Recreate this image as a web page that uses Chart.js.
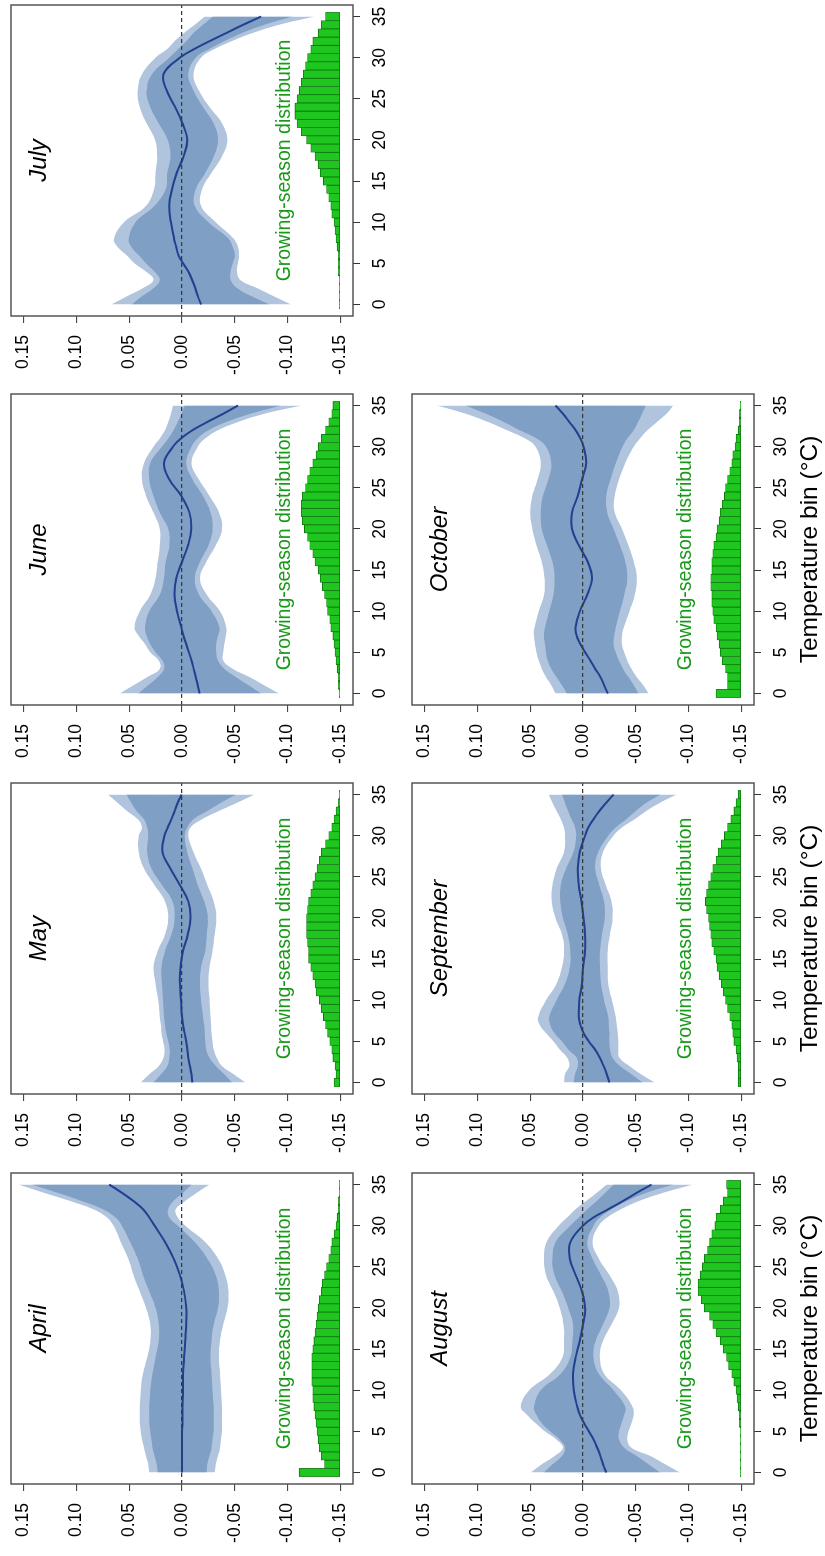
<!DOCTYPE html>
<html>
<head>
<meta charset="utf-8">
<script src="https://cdn.jsdelivr.net/npm/chart.js@4.4.1/dist/chart.umd.min.js"></script>
<style>
html, body { margin: 0; padding: 0; background: #fff; }
body { width: 825px; height: 1556px; overflow: hidden; position: relative; }
/* the figure is laid out landscape and turned a quarter turn to the left */
#fig { position: absolute; left: 0; top: 0; width: 1556px; height: 825px;
       transform-origin: 0 0; transform: translate(0px, 1556px) rotate(-90deg); }
#fig canvas { position: absolute; }
</style>
</head>
<body>
<div id="fig"></div>
<script>
const FONT = '"Liberation Sans", Arial, Helvetica, sans-serif';

// temperatures (°C) where the response curves were read
const temps = [0, 1, 2, 3, 4, 5, 6, 7, 8, 10, 12, 14, 16, 18, 20, 22, 24, 26, 28, 30, 31, 32, 33, 34, 35];
// histogram bins
const bins = [0, 1, 2, 3, 4, 5, 6, 7, 8, 9, 10, 11, 12, 13, 14, 15, 16, 17, 18, 19, 20, 21, 22, 23, 24, 25, 26, 27, 28, 29, 30, 31, 32, 33, 34, 35];
const tempTicks = [0, 5, 10, 15, 20, 25, 30, 35];
const valueTicks = [-0.15, -0.10, -0.05, 0, 0.05, 0.10, 0.15];
const histBase = -0.15;

// April
const aprHi99 = [0.031, 0.032, 0.034, 0.036, 0.038, 0.039, 0.040, 0.040, 0.040, 0.039, 0.037, 0.033, 0.030, 0.030, 0.034, 0.040, 0.046, 0.051, 0.058, 0.065, 0.071, 0.084, 0.106, 0.131, 0.155];
const aprHi95 = [0.023, 0.024, 0.026, 0.028, 0.029, 0.030, 0.031, 0.031, 0.031, 0.030, 0.028, 0.025, 0.022, 0.022, 0.025, 0.031, 0.037, 0.042, 0.049, 0.057, 0.063, 0.075, 0.095, 0.118, 0.142];
const aprMean = [0.000, 0.000, 0.000, 0.000, 0.000, 0.000, -0.0005, -0.0005, -0.0005, -0.001, -0.001, -0.002, -0.003, -0.004, -0.004, -0.002, 0.002, 0.008, 0.016, 0.026, 0.031, 0.037, 0.046, 0.057, 0.069];
const aprLo95 = [-0.0235, -0.024, -0.026, -0.028, -0.029, -0.030, -0.030, -0.030, -0.030, -0.029, -0.028, -0.027, -0.028, -0.030, -0.034, -0.035, -0.032, -0.024, -0.012, 0.004, 0.012, 0.013, 0.008, -0.001, -0.009];
const aprLo99 = [-0.031, -0.032, -0.034, -0.036, -0.037, -0.038, -0.038, -0.038, -0.038, -0.037, -0.036, -0.035, -0.036, -0.039, -0.043, -0.044, -0.041, -0.034, -0.022, -0.003, 0.004, 0.006, -0.003, -0.014, -0.026];
const aprHist = [-0.111, -0.135, -0.132, -0.130, -0.129, -0.128, -0.127, -0.126, -0.125, -0.124, -0.124, -0.123, -0.123, -0.123, -0.123, -0.124, -0.125, -0.126, -0.127, -0.128, -0.129, -0.130, -0.132, -0.133, -0.135, -0.137, -0.139, -0.141, -0.142, -0.144, -0.146, -0.147, -0.148, -0.148, -0.149, -0.149];

// May
const mayHi99 = [0.039, 0.031, 0.022, 0.0175, 0.0165, 0.018, 0.0195, 0.020, 0.021, 0.0225, 0.025, 0.027, 0.023, 0.016, 0.013, 0.016, 0.026, 0.036, 0.041, 0.041, 0.038, 0.042, 0.052, 0.061, 0.070];
const mayHi95 = [0.027, 0.020, 0.014, 0.012, 0.0115, 0.013, 0.015, 0.016, 0.017, 0.018, 0.019, 0.0195, 0.016, 0.010, 0.007, 0.009, 0.019, 0.029, 0.033, 0.032, 0.033, 0.036, 0.043, 0.048, 0.0525];
const mayMean = [-0.0098, -0.009, -0.0075, -0.006, -0.005, -0.004, -0.0025, -0.001, 0.000, 0.001, 0.002, 0.0015, -0.001, -0.0055, -0.008, -0.006, 0.002, 0.011, 0.0185, 0.0165, 0.0135, 0.010, 0.007, 0.004, 0.0005];
const mayLo95 = [-0.0475, -0.040, -0.032, -0.026, -0.023, -0.022, -0.0215, -0.021, -0.020, -0.018, -0.017, -0.018, -0.022, -0.0235, -0.0245, -0.021, -0.015, -0.010, -0.005, -0.0025, -0.005, -0.011, -0.024, -0.037, -0.051];
const mayLo99 = [-0.060, -0.049, -0.038, -0.033, -0.030, -0.029, -0.028, -0.0275, -0.027, -0.026, -0.025, -0.026, -0.029, -0.031, -0.0325, -0.030, -0.024, -0.018, -0.011, -0.006, -0.008, -0.019, -0.035, -0.052, -0.0685];
const mayHist = [-0.144, -0.146, -0.145, -0.143, -0.142, -0.140, -0.138, -0.136, -0.134, -0.132, -0.130, -0.127, -0.126, -0.124, -0.122, -0.120, -0.120, -0.119, -0.118, -0.118, -0.118, -0.119, -0.120, -0.122, -0.124, -0.126, -0.128, -0.130, -0.132, -0.136, -0.139, -0.142, -0.144, -0.146, -0.148, -0.149];

// June
const junHi99 = [0.059, 0.046, 0.033, 0.021, 0.022, 0.030, 0.035, 0.041, 0.045, 0.040, 0.030, 0.025, 0.023, 0.021, 0.021, 0.027, 0.034, 0.038, 0.036, 0.027, 0.021, 0.016, 0.013, 0.0105, 0.0085];
const junHi95 = [0.0415, 0.032, 0.023, 0.017, 0.0185, 0.025, 0.030, 0.0335, 0.035, 0.031, 0.021, 0.017, 0.0155, 0.012, 0.013, 0.021, 0.027, 0.031, 0.030, 0.019, 0.013, 0.008, 0.004, 0.0005, -0.0025];
const junMean = [-0.0167, -0.015, -0.013, -0.011, -0.009, -0.0065, -0.004, -0.0015, 0.0006, 0.0047, 0.007, 0.0055, 0.000, -0.0057, -0.0088, -0.007, 0.0006, 0.012, 0.017, 0.0085, 0.001, -0.010, -0.024, -0.039, -0.053];
const junLo95 = [-0.075, -0.063, -0.051, -0.040, -0.034, -0.0325, -0.0325, -0.034, -0.0355, -0.028, -0.016, -0.012, -0.017, -0.025, -0.029, -0.027, -0.020, -0.010, -0.004, -0.009, -0.015, -0.025, -0.042, -0.065, -0.094];
const junLo99 = [-0.092, -0.078, -0.064, -0.048, -0.039, -0.039, -0.040, -0.0415, -0.042, -0.036, -0.0235, -0.017, -0.023, -0.032, -0.038, -0.035, -0.026, -0.016, -0.009, -0.015, -0.022, -0.034, -0.053, -0.078, -0.113];
const junHist = [-0.149, -0.148, -0.148, -0.147, -0.146, -0.145, -0.144, -0.143, -0.141, -0.140, -0.138, -0.137, -0.135, -0.133, -0.131, -0.129, -0.126, -0.124, -0.121, -0.119, -0.116, -0.114, -0.113, -0.113, -0.114, -0.117, -0.119, -0.121, -0.124, -0.127, -0.129, -0.132, -0.136, -0.139, -0.142, -0.143];

// July
const julHi99 = [0.067, 0.052, 0.037, 0.027, 0.034, 0.045, 0.0525, 0.061, 0.0645, 0.055, 0.034, 0.0265, 0.025, 0.0235, 0.0255, 0.0335, 0.040, 0.042, 0.038, 0.025, 0.0145, 0.007, -0.002, -0.012, -0.0215];
const julHi95 = [0.0475, 0.038, 0.027, 0.021, 0.026, 0.034, 0.041, 0.048, 0.0505, 0.044, 0.026, 0.0155, 0.014, 0.011, 0.0135, 0.022, 0.030, 0.0335, 0.0285, 0.012, 0.004, -0.004, -0.011, -0.020, -0.0295];
const julMean = [-0.018, -0.015, -0.0125, -0.0095, -0.006, -0.001, 0.0035, 0.0055, 0.0075, 0.0105, 0.012, 0.0095, 0.005, -0.0015, -0.005, -0.0005, 0.0065, 0.0145, 0.0175, 0.002, -0.011, -0.026, -0.042, -0.058, -0.075];
const julLo95 = [-0.083, -0.066, -0.052, -0.046, -0.046, -0.048, -0.050, -0.048, -0.044, -0.025, -0.012, -0.013, -0.022, -0.030, -0.034, -0.030, -0.020, -0.011, -0.006, -0.013, -0.025, -0.040, -0.057, -0.078, -0.105];
const julLo99 = [-0.1035, -0.087, -0.071, -0.055, -0.052, -0.053, -0.054, -0.053, -0.049, -0.032, -0.018, -0.019, -0.028, -0.038, -0.043, -0.038, -0.026, -0.016, -0.011, -0.018, -0.030, -0.047, -0.067, -0.092, -0.1255];
const julHist = [-0.149, -0.149, -0.149, -0.149, -0.148, -0.148, -0.148, -0.147, -0.146, -0.145, -0.144, -0.142, -0.141, -0.139, -0.137, -0.134, -0.131, -0.129, -0.126, -0.122, -0.118, -0.113, -0.109, -0.107, -0.107, -0.109, -0.111, -0.113, -0.115, -0.117, -0.119, -0.122, -0.124, -0.129, -0.132, -0.136];

// August
const augHi99 = [0.0495, 0.039, 0.027, 0.019, 0.025, 0.036, 0.045, 0.053, 0.059, 0.051, 0.031, 0.0195, 0.018, 0.0185, 0.022, 0.028, 0.035, 0.037, 0.0345, 0.023, 0.015, 0.007, -0.003, -0.013, -0.0225];
const augHi95 = [0.037, 0.029, 0.020, 0.017, 0.022, 0.031, 0.039, 0.044, 0.0465, 0.040, 0.021, 0.012, 0.010, 0.0095, 0.014, 0.020, 0.027, 0.029, 0.026, 0.012, 0.004, -0.004, -0.013, -0.021, -0.029];
const augMean = [-0.022, -0.019, -0.0165, -0.0135, -0.010, -0.0055, -0.001, 0.003, 0.0055, 0.0088, 0.0094, 0.007, 0.003, 0.000, -0.002, 0.001, 0.007, 0.0125, 0.012, 0.000, -0.010, -0.024, -0.038, -0.051, -0.065];
const augLo95 = [-0.073, -0.062, -0.051, -0.039, -0.034, -0.034, -0.0365, -0.039, -0.040, -0.029, -0.015, -0.010, -0.012, -0.019, -0.025, -0.024, -0.017, -0.009, -0.004, -0.010, -0.016, -0.027, -0.0415, -0.060, -0.0855];
const augLo99 = [-0.092, -0.078, -0.064, -0.046, -0.042, -0.043, -0.046, -0.048, -0.047, -0.036, -0.020, -0.016, -0.019, -0.027, -0.034, -0.033, -0.025, -0.015, -0.009, -0.015, -0.023, -0.036, -0.053, -0.076, -0.104];
const augHist = [-0.149, -0.149, -0.149, -0.149, -0.149, -0.149, -0.148, -0.148, -0.147, -0.146, -0.145, -0.143, -0.141, -0.138, -0.136, -0.133, -0.130, -0.126, -0.123, -0.120, -0.115, -0.112, -0.109, -0.109, -0.111, -0.113, -0.115, -0.118, -0.120, -0.122, -0.125, -0.126, -0.130, -0.133, -0.137, -0.136];

// September
const sepHi99 = [0.018, 0.017, 0.013, 0.015, 0.022, 0.028, 0.035, 0.041, 0.0425, 0.035, 0.025, 0.020, 0.018, 0.020, 0.026, 0.0295, 0.029, 0.025, 0.018, 0.017, 0.018, 0.021, 0.025, 0.029, 0.0325];
const sepHi95 = [0.009, 0.0075, 0.005, 0.006, 0.014, 0.020, 0.027, 0.031, 0.032, 0.025, 0.017, 0.0125, 0.012, 0.0145, 0.019, 0.0215, 0.021, 0.016, 0.009, 0.0065, 0.0075, 0.011, 0.014, 0.017, 0.020];
const sepMean = [-0.025, -0.0225, -0.0195, -0.016, -0.0115, -0.0055, -0.0005, 0.0025, 0.004, 0.0035, 0.001, 0.000, -0.002, -0.002, -0.0005, 0.0015, 0.004, 0.005, 0.003, -0.002, -0.005, -0.010, -0.0155, -0.022, -0.029];
const sepLo95 = [-0.0565, -0.046, -0.035, -0.028, -0.0255, -0.025, -0.025, -0.0245, -0.024, -0.020, -0.017, -0.016, -0.016, -0.018, -0.0205, -0.020, -0.0155, -0.0115, -0.0145, -0.024, -0.031, -0.041, -0.050, -0.060, -0.0735];
const sepLo99 = [-0.068, -0.055, -0.044, -0.0345, -0.0335, -0.0335, -0.033, -0.032, -0.031, -0.0275, -0.024, -0.0235, -0.0235, -0.0255, -0.028, -0.027, -0.0215, -0.017, -0.019, -0.029, -0.037, -0.049, -0.060, -0.073, -0.0885];
const sepHist = [-0.147, -0.147, -0.147, -0.146, -0.145, -0.143, -0.142, -0.141, -0.139, -0.137, -0.135, -0.133, -0.131, -0.129, -0.127, -0.126, -0.124, -0.122, -0.121, -0.120, -0.119, -0.117, -0.116, -0.117, -0.119, -0.121, -0.123, -0.126, -0.128, -0.131, -0.134, -0.137, -0.140, -0.143, -0.145, -0.147];

// October
const octHi99 = [0.026, 0.030, 0.035, 0.039, 0.042, 0.044, 0.0455, 0.0465, 0.046, 0.042, 0.037, 0.0365, 0.039, 0.044, 0.048, 0.050, 0.048, 0.043, 0.040, 0.045, 0.055, 0.072, 0.090, 0.111, 0.138];
const octHi95 = [0.0155, 0.020, 0.025, 0.030, 0.0335, 0.035, 0.036, 0.037, 0.036, 0.032, 0.028, 0.027, 0.029, 0.034, 0.039, 0.040, 0.038, 0.033, 0.030, 0.035, 0.044, 0.060, 0.075, 0.092, 0.111];
const octMean = [-0.0235, -0.020, -0.0165, -0.0115, -0.007, -0.002, 0.0025, 0.006, 0.007, 0.003, -0.004, -0.0085, -0.0045, 0.004, 0.0105, 0.0105, 0.005, 0.001, -0.003, -0.0005, 0.0025, 0.007, 0.013, 0.019, 0.026];
const octLo95 = [-0.0525, -0.048, -0.043, -0.038, -0.034, -0.031, -0.029, -0.0295, -0.031, -0.035, -0.039, -0.042, -0.040, -0.035, -0.029, -0.023, -0.022, -0.026, -0.031, -0.0375, -0.042, -0.048, -0.052, -0.056, -0.0595];
const octLo99 = [-0.062, -0.057, -0.051, -0.046, -0.042, -0.039, -0.037, -0.037, -0.0385, -0.044, -0.049, -0.051, -0.048, -0.043, -0.037, -0.030, -0.030, -0.034, -0.040, -0.048, -0.054, -0.061, -0.070, -0.079, -0.0855];
const octHist = [-0.126, -0.137, -0.137, -0.135, -0.132, -0.130, -0.129, -0.127, -0.126, -0.124, -0.123, -0.122, -0.122, -0.121, -0.121, -0.122, -0.122, -0.123, -0.124, -0.126, -0.127, -0.129, -0.130, -0.132, -0.134, -0.135, -0.137, -0.139, -0.141, -0.142, -0.144, -0.145, -0.147, -0.148, -0.148, -0.149];

const panels = [
  {month: 'April', col: 0, row: 0, mean: aprMean, hi95: aprHi95, lo95: aprLo95, hi99: aprHi99, lo99: aprLo99, hist: aprHist},
  {month: 'May', col: 1, row: 0, mean: mayMean, hi95: mayHi95, lo95: mayLo95, hi99: mayHi99, lo99: mayLo99, hist: mayHist},
  {month: 'June', col: 2, row: 0, mean: junMean, hi95: junHi95, lo95: junLo95, hi99: junHi99, lo99: junLo99, hist: junHist},
  {month: 'July', col: 3, row: 0, mean: julMean, hi95: julHi95, lo95: julLo95, hi99: julHi99, lo99: julLo99, hist: julHist},
  {month: 'August', col: 0, row: 1, mean: augMean, hi95: augHi95, lo95: augLo95, hi99: augHi99, lo99: augLo99, hist: augHist},
  {month: 'September', col: 1, row: 1, mean: sepMean, hi95: sepHi95, lo95: sepLo95, hi99: sepHi99, lo99: sepLo99, hist: sepHist},
  {month: 'October', col: 2, row: 1, mean: octMean, hi95: octHi95, lo95: octLo95, hi99: octHi99, lo99: octLo99, hist: octHist}
];

// layout of the (unrotated) figure
const PLOT_W = 311, PLOT_H = 342;
const COL_X = [72, 462, 851, 1240];
const ROW_Y = [11, 412];
const LEFT = 62, RIGHT = 6, TOP = 8, BOTTOM = 72;

const panelText = {
  id: 'panelText',
  afterDatasetsDraw(chart, args, opts) {
    const {ctx, chartArea: a} = chart;
    const cx = (a.left + a.right) / 2;
    ctx.save();
    ctx.textAlign = 'center';
    ctx.textBaseline = 'alphabetic';
    ctx.fillStyle = '#000';
    ctx.font = 'italic 24px ' + FONT;
    ctx.fillText(opts.month, cx, a.top + 35);
    ctx.fillStyle = '#179a17';
    ctx.font = '19.5px ' + FONT;
    ctx.fillText('Growing-season distribution', cx, a.top + 279);
    ctx.restore();
  },
  afterDraw(chart) {
    const {ctx, chartArea: a} = chart;
    ctx.save();
    ctx.strokeStyle = '#555';
    ctx.lineWidth = 1.5;
    ctx.strokeRect(a.left, a.top, a.width, a.height);
    ctx.restore();
  }
};

const toXY = (xs, ys) => xs.map((x, i) => ({x: x, y: ys[i]}));
const band = (data, color, fill, order) => ({
  type: 'line', data: data, fill: fill, order: order,
  backgroundColor: color, borderColor: 'rgba(0,0,0,0)', borderWidth: 0,
  pointRadius: 0, tension: 0.4
});

const fig = document.getElementById('fig');
panels.forEach(p => {
  const cv = document.createElement('canvas');
  cv.width = LEFT + PLOT_W + RIGHT;
  cv.height = TOP + PLOT_H + BOTTOM;
  cv.style.width = cv.width + 'px';
  cv.style.height = cv.height + 'px';
  cv.style.left = (COL_X[p.col] - LEFT) + 'px';
  cv.style.top = (ROW_Y[p.row] - TOP) + 'px';
  fig.appendChild(cv);

  new Chart(cv, {
    type: 'line',
    data: {
      datasets: [
        {data: toXY(temps, p.mean), borderColor: '#22408f', borderWidth: 2, pointRadius: 0,
         fill: false, order: 0, tension: 0.4},
        {type: 'bar', data: toXY(bins, p.hist), base: histBase,
         backgroundColor: '#1fc61f', borderColor: '#0d760d', borderWidth: 0.8, borderSkipped: false,
         barPercentage: 1, categoryPercentage: 1, order: 2},
        band(toXY(temps, p.hi95), '#7f9fc4', '+1', 3),
        band(toXY(temps, p.lo95), '#7f9fc4', false, 4),
        band(toXY(temps, p.hi99), '#b0c4de', '+1', 5),
        band(toXY(temps, p.lo99), '#b0c4de', false, 6)
      ]
    },
    options: {
      responsive: false,
      animation: false,
      events: [],
      layout: {padding: {left: 0, right: RIGHT, top: TOP, bottom: 0}},
      plugins: {legend: {display: false}, tooltip: {enabled: false}, panelText: {month: p.month}},
      scales: {
        x: {
          type: 'linear', min: -1.4, max: 36.4, offset: false,
          afterBuildTicks: s => { s.ticks = tempTicks.map(v => ({value: v})); },
          afterFit: s => { s.height = BOTTOM; s.paddingLeft = 0; s.paddingRight = 0; },
          grid: {drawOnChartArea: false, drawTicks: true, tickLength: 7, tickColor: '#333', tickWidth: 1, offset: false},
          border: {display: false},
          ticks: {padding: 10, color: '#000', font: {family: FONT, size: 17.5}, maxRotation: 0, autoSkip: false},
          title: {display: p.row === 1, text: 'Temperature bin (°C)', color: '#000',
                  font: {family: FONT, size: 24.5, lineHeight: 1}, padding: {top: 0, bottom: 4}}
        },
        y: {
          type: 'linear', min: -0.162, max: 0.162,
          afterBuildTicks: s => { s.ticks = valueTicks.map(v => ({value: v})); },
          afterFit: s => { s.width = LEFT; s.paddingTop = 0; s.paddingBottom = 0; },
          grid: {z: 1, color: c => (c.tick && c.tick.value === 0) ? '#3a3a3a' : 'rgba(0,0,0,0)',
                 lineWidth: 1.2, drawTicks: true, tickLength: 7, tickColor: '#333', tickWidth: 1},
          border: {display: false, dash: [4, 3]},
          ticks: {padding: 12, color: '#000', font: {family: FONT, size: 17.5}, autoSkip: false,
                  callback: v => v.toFixed(2)}
        }
      }
    },
    plugins: [panelText]
  });
});
</script>
</body>
</html>
